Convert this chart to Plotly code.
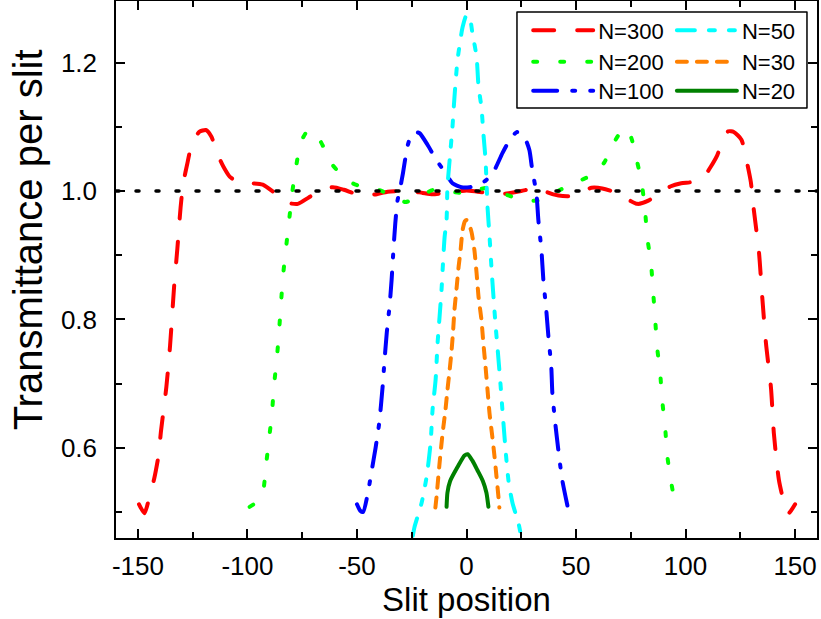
import plotly.graph_objects as go

# ---------------- data ----------------
n300_x = [-149.5, -147, -145, -142.5, -140.5, -139.5, -137, -135.3, -133.5, -132, -130.5, -129.3, -127.3,
          -125.3, -122, -119, -116.5, -113.5, -110.5, -108, -103, -98, -93, -87.5, -82, -77, -72, -67, -61,
          -56, -51, -46.5, -41, -36, -26, -20, -15.5, -10, -4.5, 0, 5, 10, 16, 20, 25, 33, 37, 42, 47, 52,
          57, 62, 67, 72, 78, 83, 88, 93, 98, 103, 108, 111, 114.5, 117, 119.5, 122, 125.5, 128, 129.8,
          131, 133.5, 135, 136.7, 139, 140.3, 142.6, 145, 147, 150]
n300_y = [0.512, 0.498, 0.52, 0.553, 0.59, 0.625, 0.695, 0.76, 0.85, 0.91, 0.975, 1.012, 1.045,
          1.075, 1.092, 1.095, 1.085, 1.056, 1.035, 1.022, 1.012, 1.012, 1.01, 0.997, 0.982, 0.98, 0.99, 1.0, 1.006,
          1.002, 0.996, 0.993, 0.995, 0.999, 1.0, 0.997, 0.995, 0.997, 0.999, 1.001, 0.999, 0.997, 0.995, 0.997, 1.0, 1.005, 0.998, 0.993, 0.992, 0.998,
          1.005, 1.004, 0.999, 0.99, 0.98, 0.985, 0.997, 1.007, 1.012, 1.014, 1.02, 1.035, 1.056, 1.08, 1.093, 1.092, 1.08, 1.045, 1.014,
          0.975, 0.905, 0.835, 0.763, 0.693, 0.623, 0.55, 0.514, 0.498, 0.512]

n200_x = [-99, -96, -93, -91.6, -90.2, -88.8, -87.9, -86.6, -85.6, -84.7, -83.8, -82.5, -81.1, -79.7, -77.9,
          -75.6, -73, -71, -68.3, -65.5, -62.4, -57, -52, -46, -40, -34, -28, -22, -15.5, -9, -2.3, 3, 9.6,
          15, 21.9, 28, 34.6, 40, 47, 53, 59, 63, 66, 70, 73.3, 75.5, 77.4, 80, 81.5, 82.5, 84.2, 85.2, 86.1,
          87, 88.4, 89.3, 90.7, 91.6, 93.4, 95.7]
n200_y = [0.508, 0.515, 0.53, 0.57, 0.612, 0.654, 0.696, 0.738, 0.78, 0.824, 0.866, 0.908, 0.95, 0.994, 1.036,
          1.076, 1.092, 1.095, 1.087, 1.07, 1.046, 1.025, 1.012, 1.005, 1.0015, 0.993, 0.983, 0.99, 1.0015, 1.0, 0.997, 1.0, 1.005,
          0.998, 0.99, 0.985, 0.986, 0.997, 1.009, 1.018, 1.028, 1.045, 1.067, 1.09, 1.098, 1.08, 1.053, 1.012, 0.97, 0.928, 0.888, 0.843, 0.802,
          0.757, 0.717, 0.675, 0.631, 0.589, 0.547, 0.505]

n100_x = [-50, -48.5, -47.2, -45, -43.5, -41.5, -39.8, -38.3, -37.4, -36.4, -35.1, -34.2, -33.3, -32.5, -31.5,
          -30.5, -29, -27, -25.5, -23.7, -21.4, -17.8, -13.7, -10, -6.4, -2.3, 1.4, 5, 9, 12.8, 16.4, 20.5,
          23.2, 26.4, 28.7, 30, 31.9, 32.8, 34.2, 35.1, 36.4, 37.4, 38.7, 39.2, 40.5, 41.9, 43.7, 46.5]
n100_y = [0.512, 0.502, 0.5, 0.53, 0.56, 0.6, 0.64, 0.695, 0.737, 0.779, 0.822, 0.861, 0.911, 0.95, 0.985,
          1.0, 1.028, 1.069, 1.085, 1.092, 1.09, 1.072, 1.048, 1.03, 1.012, 1.006, 1.006, 1.009, 1.017, 1.033, 1.059, 1.084,
          1.092, 1.084, 1.064, 1.033, 0.997, 0.955, 0.908, 0.861, 0.815, 0.773, 0.726, 0.685, 0.639, 0.597, 0.55, 0.503]

n50_x = [-24.5, -23.7, -20.5, -18.2, -16.4, -15.5, -14.1, -13.2, -12.3, -11.4, -10.9, -10, -9.1, -8.7, -7.3,
         -6.4, -5.5, -4.1, -1.8, 0, 1.4, 2.7, 4.6, 5.5, 6.8, 7.7, 8.7, 9.6, 10.5, 11.6, 13.2, 14.3, 15.5,
         16.6, 18, 19.3, 21, 23.7, 24.5]
n50_y = [0.463, 0.477, 0.514, 0.555, 0.607, 0.659, 0.706, 0.763, 0.804, 0.846, 0.877, 0.928, 0.955, 1.006, 1.064,
         1.1, 1.146, 1.204, 1.255, 1.274, 1.271, 1.246, 1.209, 1.162, 1.131, 1.09, 1.048, 0.975, 0.93, 0.87, 0.794, 0.75, 0.70,
         0.65, 0.59, 0.545, 0.514, 0.483, 0.47]

n30_x = [-14.2, -13.7, -12.3, -10.9, -9.6, -8.7, -7.7, -6.8, -6.1, -5.5, -4.6, -3.6, -2.7, -1.8, -0.7, 0, 0.8,
         2.3, 3.6, 4.6, 5.5, 6.8, 7.7, 8.7, 9.6, 10.5, 11.8, 12.8, 13.7, 14.6, 15]
n30_y = [0.507, 0.523, 0.576, 0.623, 0.659, 0.69, 0.721, 0.752, 0.783, 0.815, 0.846, 0.882, 0.908, 0.939, 0.953, 0.955, 0.952,
         0.936, 0.908, 0.872, 0.835, 0.8, 0.763, 0.726, 0.69, 0.654, 0.617, 0.586, 0.555, 0.523, 0.507]

n20_x = [-9.1, -8.7, -7.5, -4.1, -0.9, 0.5, 2.7, 5, 7.5, 9.1, 10]
n20_y = [0.508, 0.53, 0.548, 0.57, 0.588, 0.59, 0.58, 0.565, 0.548, 0.53, 0.508]

ref_level = 1.0
x_ticks = [-150, -100, -50, 0, 50, 100, 150]
x_ticklabels = [str(v) for v in x_ticks]

series = [
    ("N=300", n300_x, n300_y, "#FF0000", "21px,23px"),
    ("N=200", n200_x, n200_y, "#00FF00", "4px,23px"),
    ("N=100", n100_x, n100_y, "#0000FF", "24px,15px,3px,15px"),
    ("N=50", n50_x, n50_y, "#00FFFF", "18px,14px,6px,14px,6px,14px"),
    ("N=30", n30_x, n30_y, "#FF8000", "10px,10px"),
    ("N=20", n20_x, n20_y, "#008000", "solid"),
]

FONT = "Liberation Sans, Arial, sans-serif"

# legend slots: two columns x three rows (paper coords)
leg_cols = [0.588, 0.793]
leg_rows = [0.945, 0.8864, 0.8324]

fig = go.Figure()
legend_layout = {}
for i, (name, xs, ys, col, dash) in enumerate(series):
    key = "legend" if i == 0 else f"legend{i + 1}"
    fig.add_trace(go.Scatter(x=xs, y=ys, mode="lines", name=name, legend=key, showlegend=True,
                             line=dict(color=col, width=4, dash=dash, shape="spline", smoothing=0.6)))
    legend_layout[key] = dict(x=leg_cols[i // 3], y=leg_rows[i % 3], xanchor="left", yanchor="middle",
                              bgcolor="rgba(0,0,0,0)", borderwidth=0, itemwidth=60,
                              font=dict(size=22, family=FONT))

fig.update_layout(
    width=821, height=619,
    margin=dict(l=116, r=4, t=1, b=81),
    paper_bgcolor="white", plot_bgcolor="white",
    showlegend=True,
    font=dict(family=FONT, color="black", size=26),
    shapes=[dict(type="rect", xref="paper", yref="paper", x0=0.572, x1=0.9857, y0=0.8007, y1=0.9795,
                 line=dict(color="black", width=1.5), fillcolor="white", layer="below")],
    annotations=[dict(text="Transmittance per slit", textangle=-90, showarrow=False,
                      xref="paper", yref="paper", x=-0.125, y=0.555, xanchor="center", yanchor="middle",
                      font=dict(size=40, family=FONT, color="black"))],
    **legend_layout,
)
fig.add_hline(y=ref_level, line=dict(color="black", width=3.5, dash="3px,17px"), layer="above")

fig.update_xaxes(
    range=[-160, 160], showgrid=False, zeroline=False, automargin=False,
    showline=True, linecolor="black", linewidth=1.5, mirror="allticks",
    ticks="inside", ticklen=9, tickwidth=1.5, tickcolor="black",
    tickvals=x_ticks, ticktext=x_ticklabels, tickfont=dict(size=26),
    minor=dict(ticks="inside", ticklen=6, tickwidth=1.5, tickcolor="black", dtick=25, tick0=0),
    title=dict(text="Slit position", font=dict(size=33), standoff=4),
    ticklabelstandoff=4,
)
fig.update_yaxes(
    range=[0.4595, 1.296], showgrid=False, zeroline=False, automargin=False,
    showline=True, linecolor="black", linewidth=1.5, mirror="allticks",
    ticks="inside", ticklen=9, tickwidth=1.5, tickcolor="black",
    tick0=0, dtick=0.2, tickformat=".1f", tickfont=dict(size=26),
    minor=dict(ticks="inside", ticklen=6, tickwidth=1.5, tickcolor="black", dtick=0.1, tick0=0),
    ticklabelstandoff=12,
)

post_js = (
    "document.body.style.margin='0px';document.body.style.padding='0px';"
    "var s=document.createElement('style');"
    "s.innerHTML='path.js-line, .shapelayer path{stroke-linecap:round;stroke-linejoin:round;}';"
    "document.head.appendChild(s);"
)
fig.write_html("out.html", config={"displayModeBar": False}, post_script=post_js)
